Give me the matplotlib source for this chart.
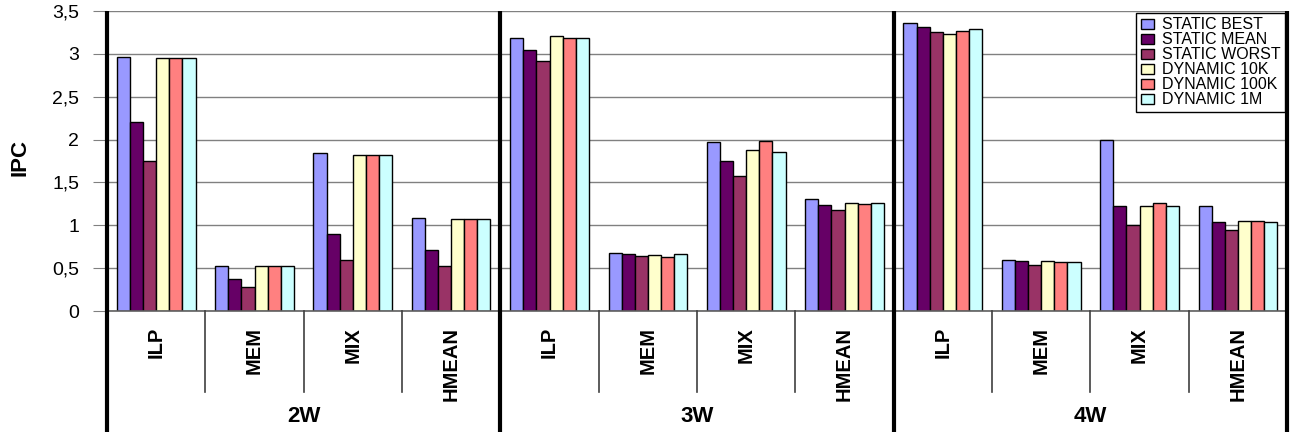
import matplotlib
matplotlib.use("Agg")
import matplotlib.pyplot as plt
from matplotlib import font_manager
import numpy as np

# ---------------- data ----------------
groups = ["2W", "3W", "4W"]
categories = ["ILP", "MEM", "MIX", "HMEAN"]
series = ["STATIC BEST", "STATIC MEAN", "STATIC WORST",
          "DYNAMIC 10K", "DYNAMIC 100K", "DYNAMIC 1M"]
colors = ["#9999FF", "#660066", "#993366", "#FFFFCC", "#FF8080", "#CCFFFF"]

# values per series, ordered 2W(ILP,MEM,MIX,HMEAN), 3W(...), 4W(...)
static_best  = [2.96, 0.52, 1.84, 1.08,  3.19, 0.68, 1.97, 1.31,  3.36, 0.60, 2.00, 1.22]
static_mean  = [2.21, 0.37, 0.90, 0.71,  3.05, 0.66, 1.75, 1.24,  3.31, 0.58, 1.22, 1.04]
static_worst = [1.75, 0.28, 0.60, 0.52,  2.92, 0.64, 1.58, 1.18,  3.25, 0.54, 1.00, 0.95]
dynamic_10k  = [2.95, 0.52, 1.82, 1.07,  3.21, 0.65, 1.88, 1.26,  3.23, 0.58, 1.22, 1.05]
dynamic_100k = [2.95, 0.52, 1.82, 1.07,  3.19, 0.63, 1.98, 1.25,  3.27, 0.57, 1.26, 1.05]
dynamic_1m   = [2.95, 0.52, 1.82, 1.07,  3.18, 0.66, 1.86, 1.26,  3.29, 0.57, 1.22, 1.04]
values = [static_best, static_mean, static_worst, dynamic_10k, dynamic_100k, dynamic_1m]

yticks = [0, 0.5, 1, 1.5, 2, 2.5, 3, 3.5]
ytick_labels = ["0", "0,5", "1", "1,5", "2", "2,5", "3", "3,5"]

# ---------------- fonts ----------------
names = {f.name for f in font_manager.fontManager.ttflist}
base_font = "Liberation Sans" if "Liberation Sans" in names else "DejaVu Sans"
narrow_font = "Liberation Sans Narrow" if "Liberation Sans Narrow" in names else base_font
plt.rcParams["font.family"] = [base_font, "DejaVu Sans"]

# ---------------- figure ----------------
W, H = 1291, 432
fig = plt.figure(figsize=(W / 100, H / 100), dpi=100)
left, right, top, bottom = 107, 1287, 11, 311
ax = fig.add_axes([left / W, (H - bottom) / H, (right - left) / W, (bottom - top) / H])

n_cat = len(groups) * len(categories)
ns = len(series)
bw = 1.0 / (ns + 1.5)
centers = np.arange(n_cat) + 0.5
for j, (name, vals, c) in enumerate(zip(series, values, colors)):
    ax.bar(centers + (j - (ns - 1) / 2) * bw, vals, width=bw, color=c,
           edgecolor="black", linewidth=1.0, label=name, zorder=3)

ax.set_xlim(0, n_cat)
ax.set_ylim(0, 3.5)
ax.set_yticks(yticks)
ax.set_yticklabels(ytick_labels, fontsize=14)
ax.tick_params(axis="y", length=10, width=0.8, color="#808080", pad=10)
ax.set_xticks([])
for s in ax.spines.values():
    s.set_visible(False)
ax.grid(axis="y", color="#808080", linewidth=1.0, zorder=0)
ax.set_axisbelow(True)

# y label
fig.text(20 / W, 1 - 157 / H, "IPC", rotation=90, fontsize=16, fontweight="bold",
         ha="center", va="center")

# vertical lines (data x, axes y)
trans = ax.get_xaxis_transform()
y_fig_bottom = -(H - bottom) / (bottom - top)
y_cat_sep = -(392 - bottom) / (bottom - top)
for gx in range(0, n_cat + 1, len(categories)):
    ax.plot([gx, gx], [1, y_fig_bottom], transform=trans, color="black",
            linewidth=3.0, clip_on=False, zorder=5, solid_capstyle="butt")
for cx in range(n_cat):
    if cx % len(categories) != 0:
        ax.plot([cx, cx], [0, y_cat_sep], transform=trans, color="#404040",
                linewidth=1.2, clip_on=False, zorder=5)
# baseline
ax.plot([0, n_cat], [0, 0], transform=trans, color="#606060", linewidth=1.2,
        clip_on=False, zorder=4)

# category labels
y_cat_top = -(327 - bottom) / (bottom - top)
for i in range(n_cat):
    ax.text(centers[i], y_cat_top, categories[i % len(categories)], transform=trans,
            rotation=90, ha="center", va="top", fontsize=14.5, fontweight="bold",
            family=narrow_font)

# group labels
y_grp = -(417 - bottom) / (bottom - top)
for g, name in enumerate(groups):
    ax.text(g * len(categories) + len(categories) / 2, y_grp, name, transform=trans,
            ha="center", va="center", fontsize=16, fontweight="bold")

# legend
leg = ax.legend(loc="upper right", bbox_to_anchor=(1.0, 1.0), fontsize=11.5,
                frameon=True, fancybox=False, edgecolor="black", framealpha=1,
                labelspacing=0.0, handlelength=0.8, handleheight=0.6,
                handletextpad=0.5, borderpad=0.3, borderaxespad=0.1)
leg.get_frame().set_linewidth(1.0)
leg.set_zorder(10)
for h in leg.legend_handles:
    h.set_linewidth(1.0)

fig.savefig("out.png", dpi=100)
